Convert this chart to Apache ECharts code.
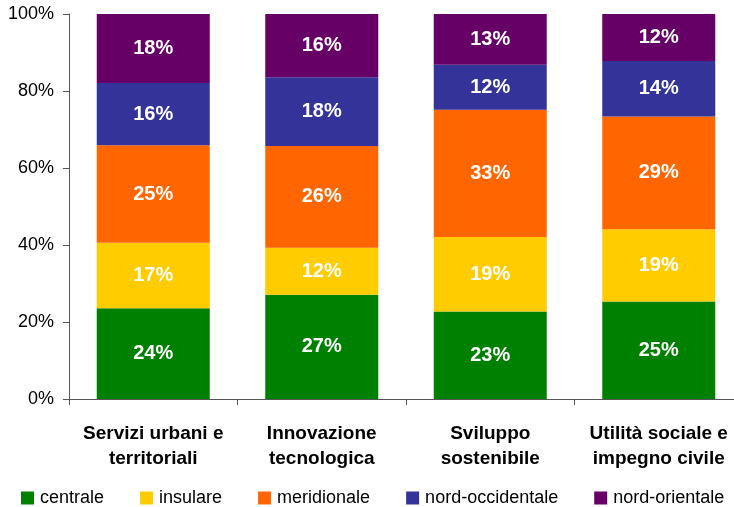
<!DOCTYPE html>
<html>
<head>
<meta charset="utf-8">
<script src="https://cdn.jsdelivr.net/npm/echarts@6/dist/echarts.min.js"></script>
<style>html,body{margin:0;padding:0;background:#fff;overflow:hidden;}#c{width:743px;height:507px;}</style>
</head>
<body>
<div id="c"></div>
<script>
const categories = ['Servizi urbani e\nterritoriali', 'Innovazione\ntecnologica', 'Sviluppo\nsostenibile', 'Utilità sociale e\nimpegno civile'];
const centrale = [23.6, 27.1, 22.7, 25.3];
const insulare = [17.0, 12.2, 19.4, 18.8];
const meridionale = [25.3, 26.4, 33.0, 29.3];
const nordOccidentale = [16.2, 17.9, 11.7, 14.4];
const nordOrientale = [17.9, 16.4, 13.2, 12.2];
const yTicks = [0, 20, 40, 60, 80, 100];

const seriesDefs = [
  ['centrale', centrale, '#008000'],
  ['insulare', insulare, '#FFCC00'],
  ['meridionale', meridionale, '#FF6600'],
  ['nord-occidentale', nordOccidentale, '#333399'],
  ['nord-orientale', nordOrientale, '#660066']
];

const chart = echarts.init(document.getElementById('c'), null, {renderer: 'canvas'});
chart.setOption({
  animation: false,
  textStyle: {fontFamily: 'Liberation Sans, Arial, sans-serif'},
  grid: {left: 69, right: 0, top: 14, height: 385, containLabel: false},
  legend: {
    left: 21, top: 489, padding: 0,
    itemWidth: 13, itemHeight: 13, itemGap: 36,
    icon: 'rect',
    textStyle: {fontSize: 18, color: '#000', fontFamily: 'Liberation Sans, Arial, sans-serif', padding: [0, 0, 0, 1], lineHeight: 18},
    data: seriesDefs.map(s => s[0])
  },
  xAxis: {
    type: 'category',
    data: categories,
    axisLine: {lineStyle: {color: '#555', width: 1}},
    axisTick: {show: true, length: 6, interval: 0, lineStyle: {color: '#555'}},
    axisLabel: {
      interval: 0, margin: 22, fontSize: 19, fontWeight: 'bold', color: '#000', lineHeight: 25,
      fontFamily: 'Liberation Sans, Arial, sans-serif'
    }
  },
  yAxis: {
    type: 'value', min: yTicks[0], max: yTicks[yTicks.length - 1], interval: 20,
    axisLine: {show: true, lineStyle: {color: '#555', width: 1}},
    axisTick: {show: true, length: 6, lineStyle: {color: '#555'}},
    splitLine: {show: false},
    axisLabel: {
      margin: 15, fontSize: 18, color: '#000', formatter: '{value}%',
      fontFamily: 'Liberation Sans, Arial, sans-serif'
    }
  },
  series: seriesDefs.map(([name, data, color]) => ({
    name, type: 'bar', stack: 'total', data, barWidth: 113,
    itemStyle: {color},
    label: {
      show: true, position: 'inside', color: '#fff', fontSize: 20, fontWeight: 'bold',
      fontFamily: 'Liberation Sans, Arial, sans-serif',
      textBorderWidth: 0,
      formatter: p => Math.round(p.value) + '%'
    }
  }))
});
</script>
</body>
</html>
